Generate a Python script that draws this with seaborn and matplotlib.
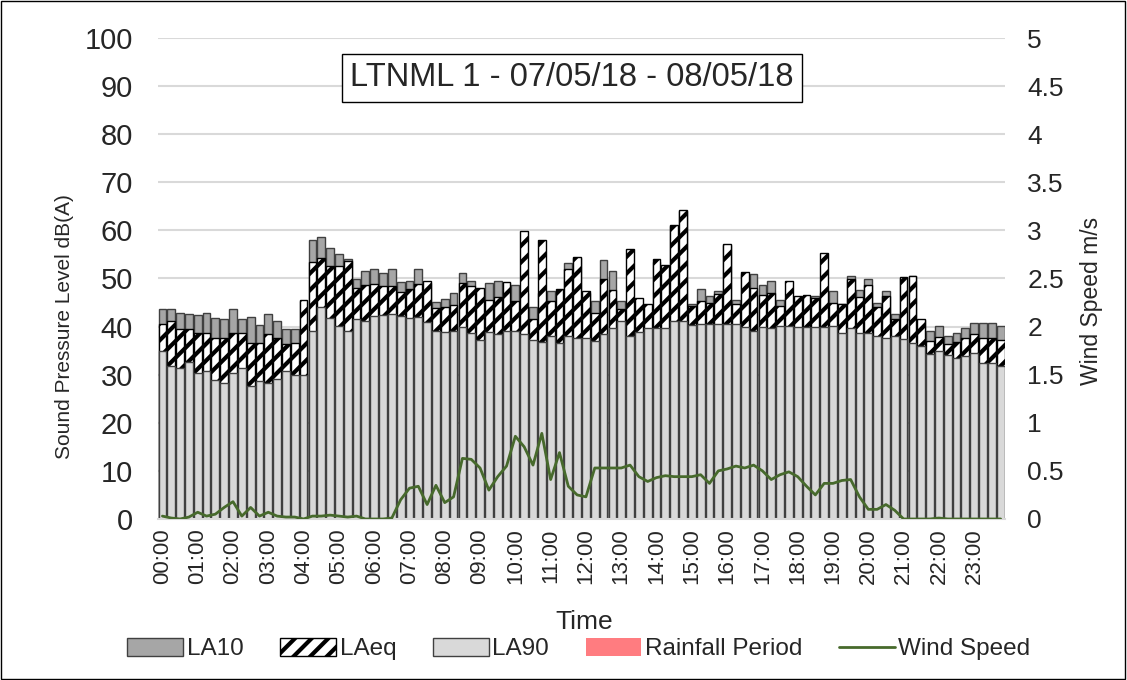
import numpy as np
import pandas as pd
import seaborn as sns
import matplotlib.pyplot as plt
from matplotlib.patches import Patch, Rectangle
from matplotlib.lines import Line2D

# 15 minute periods over the day
times = [f"{h:02d}:{m:02d}" for h in range(24) for m in (0, 15, 30, 45)]
hour_labels = [f"{h:02d}:00" for h in range(24)]

la10 = [
    43.6, 43.6, 42.9, 42.7, 42.4, 42.9, 41.8, 41.5,
    43.6, 41.5, 42.0, 40.4, 42.7, 41.1, 39.6, 39.6,
    45.3, 58.1, 58.7, 56.4, 55.1, 54.0, 49.8, 51.5,
    52.0, 51.2, 52.0, 49.2, 49.4, 52.0, 49.0, 45.1,
    45.8, 46.9, 51.2, 49.4, 47.5, 49.0, 49.5, 49.0,
    48.6, 47.0, 44.0, 47.0, 47.4, 47.5, 53.3, 54.3,
    47.0, 45.4, 53.8, 51.5, 45.4, 45.0, 45.0, 44.0,
    53.5, 52.5, 61.0, 64.0, 44.8, 47.9, 46.3, 47.4,
    57.0, 45.6, 51.0, 51.0, 48.6, 49.5, 45.5, 46.0,
    46.0, 46.0, 46.3, 47.0, 47.4, 44.6, 50.5, 47.6,
    49.8, 45.0, 47.4, 42.7, 50.0, 50.5, 41.3, 39.0,
    40.1, 38.1, 38.7, 39.8, 40.8, 40.7, 40.7, 40.1,
]
laeq = [
    40.6, 41.1, 39.4, 39.4, 38.7, 38.7, 37.7, 37.7,
    38.7, 38.7, 36.6, 36.6, 38.4, 37.7, 36.3, 36.6,
    45.6, 53.4, 54.3, 52.6, 52.6, 53.6, 48.1, 48.6,
    48.8, 48.4, 48.4, 47.2, 47.8, 48.8, 49.5, 43.9,
    44.0, 44.4, 49.1, 48.4, 48.1, 45.6, 46.2, 49.2,
    45.3, 59.9, 41.6, 58.1, 45.3, 47.9, 51.9, 54.5,
    47.4, 42.9, 49.8, 47.7, 43.6, 56.2, 46.0, 44.6,
    54.0, 52.9, 61.2, 64.3, 44.2, 45.3, 44.9, 46.7,
    57.2, 44.6, 51.3, 48.1, 46.5, 46.9, 44.2, 49.5,
    46.3, 46.5, 46.0, 55.4, 44.9, 44.8, 49.9, 46.2,
    48.6, 44.0, 46.3, 41.6, 50.4, 50.6, 41.5, 37.0,
    37.9, 36.3, 36.8, 37.7, 38.4, 37.7, 37.7, 37.3,
]
la90 = [
    34.9, 31.8, 31.4, 32.6, 30.4, 30.7, 28.8, 28.3,
    30.4, 31.4, 27.7, 28.7, 28.3, 29.0, 30.7, 30.0,
    30.0, 39.0, 44.1, 41.8, 40.1, 39.0, 41.6, 41.1,
    42.3, 42.5, 42.7, 42.3, 41.8, 42.0, 40.9, 39.0,
    38.8, 39.0, 40.0, 38.7, 37.3, 38.8, 38.5, 39.1,
    39.1, 38.4, 37.3, 36.8, 38.0, 36.6, 38.0, 37.7,
    37.7, 37.0, 38.4, 39.8, 41.1, 38.0, 38.8, 39.8,
    39.8, 39.8, 41.1, 41.1, 40.3, 40.6, 40.6, 40.6,
    40.6, 40.6, 40.0, 39.1, 40.0, 39.7, 40.2, 40.1,
    40.0, 40.0, 40.0, 40.0, 40.1, 38.7, 39.8, 38.7,
    38.7, 38.1, 37.7, 38.1, 37.4, 36.5, 35.9, 34.2,
    34.9, 34.0, 33.5, 33.8, 34.5, 32.5, 32.4, 31.8,
]
wind = [
    0.03, 0.01, 0.00, 0.02, 0.07, 0.03, 0.05, 0.12,
    0.18, 0.03, 0.12, 0.03, 0.07, 0.03, 0.02, 0.02,
    0.00, 0.03, 0.03, 0.04, 0.03, 0.02, 0.03, 0.00,
    0.00, 0.00, 0.01, 0.20, 0.32, 0.34, 0.15, 0.35,
    0.17, 0.23, 0.63, 0.62, 0.53, 0.30, 0.44, 0.55,
    0.86, 0.75, 0.56, 0.89, 0.41, 0.69, 0.34, 0.25,
    0.23, 0.53, 0.53, 0.53, 0.53, 0.56, 0.44, 0.39,
    0.43, 0.45, 0.44, 0.44, 0.44, 0.46, 0.37, 0.50,
    0.52, 0.55, 0.53, 0.56, 0.50, 0.41, 0.46, 0.49,
    0.44, 0.34, 0.25, 0.37, 0.37, 0.40, 0.41, 0.23,
    0.10, 0.10, 0.15, 0.09, 0.00, 0.00, 0.00, 0.00,
    0.01, 0.00, 0.00, 0.00, 0.00, 0.00, 0.00, 0.00,
]

df = pd.DataFrame({"time": times, "LA10": la10, "LAeq": laeq, "LA90": la90, "wind": wind})

sns.set_style("white")
plt.rcParams['font.family'] = ['Liberation Sans', 'DejaVu Sans']
plt.rcParams['hatch.linewidth'] = 3
plt.rcParams['hatch.color'] = 'black'

c_la10 = "#A6A6A6"
c_la90 = "#D9D9D9"
c_rain = "#FF7C80"
c_wind = "#476A2C"

fig = plt.figure(figsize=(11.27, 6.8), dpi=100)
ax = fig.add_axes([0.1402, 0.2368, 0.7516, 0.7073])

# overlapping bars, drawn back to front
sns.barplot(data=df, x="time", y="LA10", color=c_la10, saturation=1,
            edgecolor="#404040", linewidth=1, width=0.88, ax=ax)
sns.barplot(data=df, x="time", y="LAeq", color="white", saturation=1,
            edgecolor="black", linewidth=1, width=0.88, hatch="//", ax=ax)
sns.barplot(data=df, x="time", y="LA90", color=c_la90, saturation=1,
            edgecolor="#404040", linewidth=1, width=0.88, ax=ax)

ax.set_xlim(-0.5, 95.5)
ax.set_ylim(0, 100)
ax.set_yticks(range(0, 101, 10))
ax.set_xticks(range(0, 96, 4))
ax.set_xticklabels(hour_labels, rotation=90)
ax.tick_params(axis="both", length=0)
ax.tick_params(axis="y", pad=18, labelsize=21)
ax.tick_params(axis="x", pad=7, labelsize=16)
ax.yaxis.grid(True, color="#D9D9D9", linewidth=1.5)
ax.set_axisbelow(True)
for s in ["top", "left", "right"]:
    ax.spines[s].set_visible(False)
ax.spines["bottom"].set_color("#D9D9D9")
ax.spines["bottom"].set_linewidth(1.5)

ax.set_ylabel("Sound Pressure Level dB(A)", fontsize=15)
ax.yaxis.set_label_coords(-0.099, 0.40)
ax.set_xlabel("Time", fontsize=19)
ax.xaxis.set_label_coords(0.503, -0.19)

ax2 = ax.twinx()
sns.lineplot(x=np.arange(len(times)), y=df["wind"], ax=ax2, color=c_wind, linewidth=2)
ax2.set_xlim(-0.5, 95.5)
ax2.set_ylim(0, 5)
w_ticks = np.arange(0, 5.01, 0.5)
ax2.set_yticks(w_ticks)
ax2.set_yticklabels([f"{t:g}" for t in w_ticks])
ax2.tick_params(axis="y", length=0, labelsize=19, pad=16)
for s in ["top", "left", "right", "bottom"]:
    ax2.spines[s].set_visible(False)
ax2.set_ylabel("Wind Speed m/s", fontsize=16.5)
ax2.yaxis.set_label_coords(1.0886, 0.453)

ax.text(0.489, 0.917, "LTNML 1 - 07/05/18 - 08/05/18", transform=ax.transAxes,
        ha="center", va="center", fontsize=23.5, zorder=10,
        bbox=dict(boxstyle="square,pad=0.25", fc="white", ec="black", lw=1))

handles = [
    Patch(facecolor=c_la10, edgecolor="#404040"),
    Patch(facecolor="white", edgecolor="black", hatch="//"),
    Patch(facecolor=c_la90, edgecolor="#404040"),
    Patch(facecolor=c_rain, edgecolor="none"),
    Line2D([0], [0], color=c_wind, linewidth=2),
]
labels = ["LA10", "LAeq", "LA90", "Rainfall Period", "Wind Speed"]
fig.legend(handles, labels, loc="center", bbox_to_anchor=(579 / 1127, 1 - 649 / 680),
           ncol=5, frameon=False, fontsize=17.5, handlelength=2.3, handleheight=0.8,
           columnspacing=1.5, handletextpad=0.15)

fig.add_artist(Rectangle((0.0005, 0.001), 0.998, 0.997, transform=fig.transFigure,
                         fill=False, edgecolor="black", linewidth=1))

fig.savefig("out.png", dpi=100)
